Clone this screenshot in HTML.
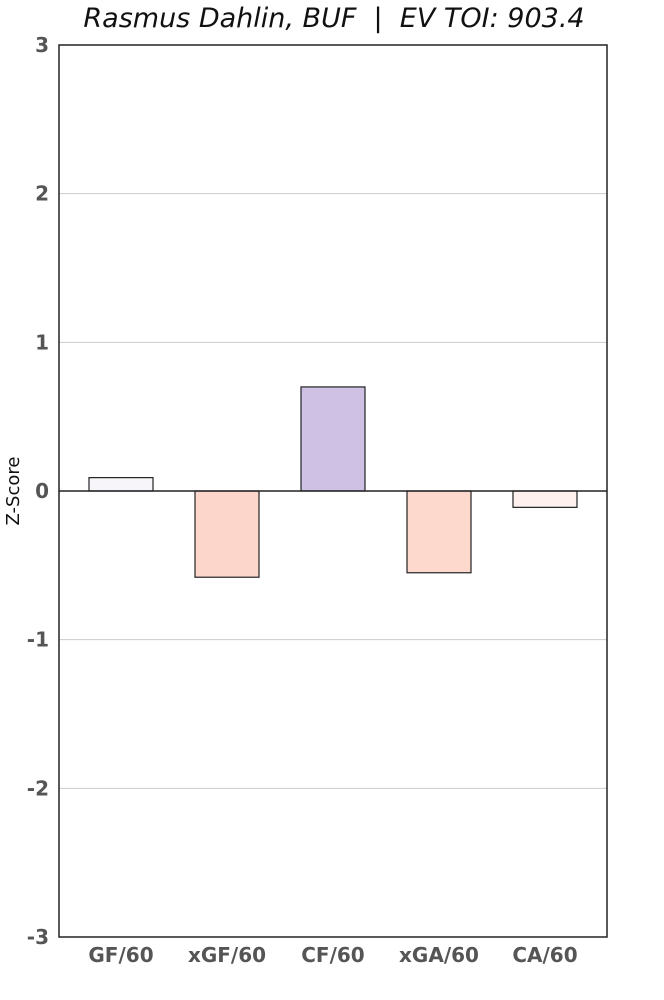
<!DOCTYPE html>
<html><head><meta charset="utf-8"><style>
body{margin:0;background:#fff;}
svg{display:block;font-family:"DejaVu Sans","Liberation Sans",sans-serif;}
</style></head><body>
<svg id="chart" width="664" height="1000" viewBox="0 0 664 1000" xmlns="http://www.w3.org/2000/svg">
<text x="334" y="27" text-anchor="middle" font-size="27" font-style="italic" fill="#111" style="white-space:pre" xml:space="preserve">Rasmus Dahlin, BUF  |  EV TOI: 903.4</text>
<g id="grid"></g>
<g id="bars"></g>
<line id="zero" x1="59" x2="607" stroke="#222" stroke-width="1.5"/>
<rect x="59" y="45" width="548" height="892" fill="none" stroke="#222" stroke-width="1.5"/>
<g id="yticks"></g>
<g id="xticks"></g>
<text x="0" y="0" transform="translate(19,491) rotate(-90)" text-anchor="middle" font-size="18" fill="#111">Z-Score</text>
</svg>
<script>
const categories=["GF/60","xGF/60","CF/60","xGA/60","CA/60"];
const values=[0.09,-0.58,0.70,-0.55,-0.11];
const colors=["#f8f5fa","#fdd6cb","#cfc1e4","#fdd8cd","#fff1ee"];
const yTicks=[3,2,1,0,-1,-2,-3];
const NS="http://www.w3.org/2000/svg";
const L=59,R=607,T=45,B=937,yMin=-3,yMax=3;
const y=v=>B-(v-yMin)/(yMax-yMin)*(B-T);
const step=106, x0=121;
const x=i=>x0+i*step;
const bw=64;
function mk(tag,attrs){const e=document.createElementNS(NS,tag);for(const k in attrs)e.setAttribute(k,attrs[k]);return e;}
const grid=document.getElementById('grid'),yt=document.getElementById('yticks'),xt=document.getElementById('xticks'),bars=document.getElementById('bars');
yTicks.forEach(t=>{
 const g=mk('line',{x1:L,x2:R,y1:y(t),y2:y(t),stroke:'#cccccc','stroke-width':1});
 
 
 grid.appendChild(g);
 const tx=mk('text',{x:L-10,y:y(t)+7,'text-anchor':'end','font-size':20,'font-weight':'bold',fill:'#555'});
 tx.textContent=String(t);
 
 
 yt.appendChild(tx);
});
categories.forEach((c,i)=>{
 const v=values[i];
 const r=mk('rect',{x:x(i)-bw/2,y:Math.min(y(v),y(0)),width:bw,height:Math.abs(y(v)-y(0)),fill:colors[i],stroke:'#222','stroke-width':1.2});
 
 
 bars.appendChild(r);
 const tx=mk('text',{x:x(i),y:B+25,'text-anchor':'middle','font-size':20,'font-weight':'bold',fill:'#555'});
 tx.textContent=c;
 
 
 xt.appendChild(tx);
});
const z=document.getElementById('zero');z.setAttribute('y1',y(0));z.setAttribute('y2',y(0));
</script>
</body></html>
